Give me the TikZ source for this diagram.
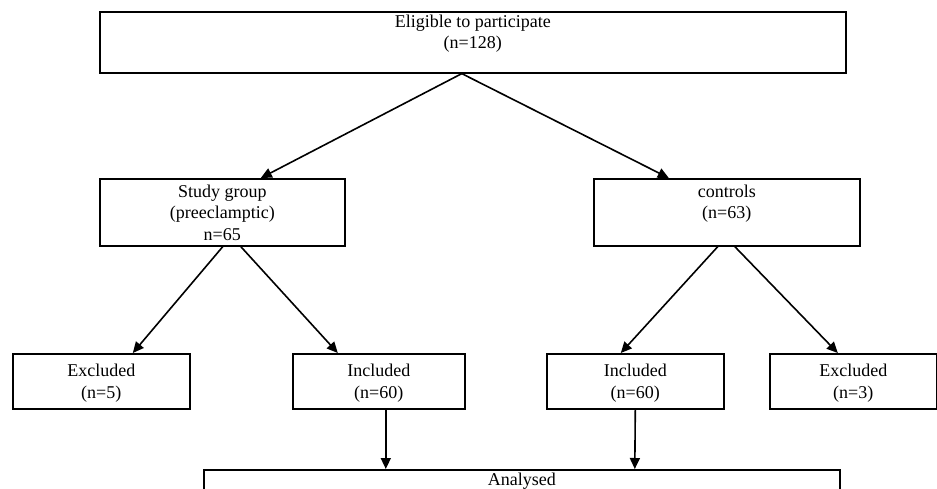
\documentclass[tikz,border=0pt]{standalone}
\usepackage{fontspec}
\setmainfont{Liberation Serif}
\usetikzlibrary{arrows.meta,positioning}
\begin{document}
\begin{tikzpicture}[
        x=1pt, y=-1pt,
        box/.style={draw, rectangle, line width=1.6pt, inner sep=0pt, anchor=north west,
            align=center, text depth=-2pt, font=\fontsize{18}{21.5}\selectfont},
        arr/.style={line width=1.6pt, -{Triangle[length=11pt,width=10pt]}},
    ]
    \useasboundingbox (0,0) rectangle (937,488);
    \clip (0,0) rectangle (937,488);
    % boxes
    \node[box, minimum width=746pt, minimum height=61pt](elig) at (99,11)
        {Eligible to participate\\(n=128)\\~};
    \node[box, minimum width=245pt, minimum height=67pt](study) at (99,178)
        {Study group\\(preeclamptic)\\n=65};
    \node[box, minimum width=266pt, minimum height=67pt](ctrl) at (593,178)
        {controls\\(n=63)\\~};
    \node[box, minimum width=177pt, minimum height=55pt](exclA) at (12,353)
        {Excluded\\(n=5)};
    \node[box, minimum width=172pt, minimum height=55pt](inclA) at (292,353)
        {Included\\(n=60)};
    \node[box, minimum width=177pt, minimum height=55pt](inclB) at (546,353)
        {Included\\(n=60)};
    \node[box, minimum width=167pt, minimum height=55pt](exclB) at (769,353)
        {Excluded\\(n=3)};
    \node[box, minimum width=636pt, minimum height=40pt](anal) at (203,469)
        {Analysed\\~};
    % connectors
    \draw[arr] ([xshift=-11pt]elig.south) -- ([xshift=38.5pt]study.north);
    \draw[arr] ([xshift=-11pt]elig.south) -- ([xshift=-58pt]ctrl.north);
    \draw[arr] ([xshift=0.5pt]study.south) -- ([xshift=31.5pt]exclA.north);
    \draw[arr] ([xshift=18.5pt]study.south) -- ([xshift=-41pt]inclA.north);
    \draw[arr] ([xshift=-9pt]ctrl.south) -- ([xshift=-14.5pt]inclB.north);
    \draw[arr] ([xshift=8pt]ctrl.south) -- ([xshift=-15.5pt]exclB.north);
    \draw[arr] ([xshift=7pt]inclA.south) -- ([xshift=-136pt]anal.north);
    \draw[arr] ([xshift=0pt]inclB.south) -- ([xshift=113pt]anal.north);
\end{tikzpicture}
\end{document}
